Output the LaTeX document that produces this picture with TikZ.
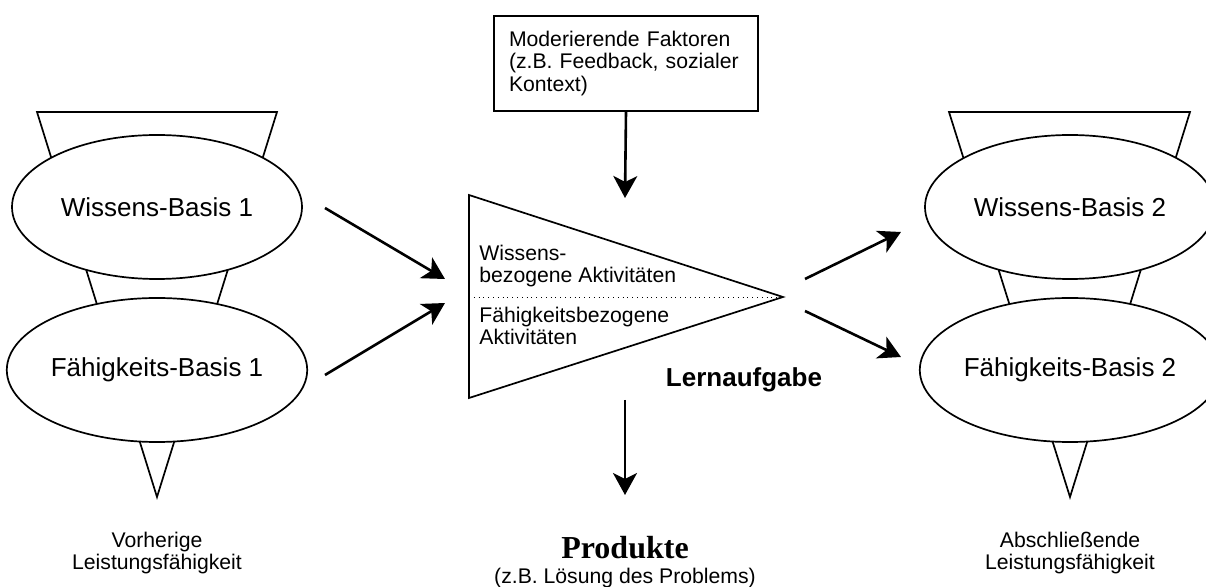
\documentclass[tikz,border=0pt]{standalone}
\usepackage{fontspec}
\setmainfont{Liberation Sans}
\newfontfamily\prodfont{Liberation Serif}
\usetikzlibrary{shapes.geometric,arrows.meta}

\begin{document}
\begin{tikzpicture}[x=0.5pt, y=-0.5pt, line join=miter,
  basis/.style={ellipse,draw,fill=white,line width=0.85pt,minimum width=145pt,minimum height=72pt,inner sep=0pt,font=\fontsize{13}{15}\selectfont},
  funnel/.style={draw,line width=0.85pt},
  pfeil/.style={-{Stealth[length=11pt,width=12pt,inset=3pt]},line width=1.3pt},
  klein/.style={font=\fontsize{10.6}{11.3}\selectfont,inner sep=0pt,align=center}]
\useasboundingbox (0,0) rectangle (1206,587);
% Trichter hinter den Basen
\draw[funnel] (37,112) -- (277,112) -- (157,497) -- cycle;
\draw[funnel] (949,112) -- (1190,112) -- (1070,497) -- cycle;
% Lernaufgabe
\coordinate (tl) at (469,195);
\coordinate (bl) at (469,398);
\coordinate (tip) at (783,297);
\draw[funnel] (tl) -- (tip) -- (bl) -- cycle;
\draw[dotted,line width=0.4pt] (469,297) -- (tip);
\begin{scope}[every node/.style={basis}]
\node (wb1) at (157,207) {Wissens-Basis 1};
\node (fb1) at (157,370) {Fähigkeits-Basis 1};
\node (wb2) at (1070,207) {Wissens-Basis 2};
\node (fb2) at (1070,370) {Fähigkeits-Basis 2};
\end{scope}
\begin{scope}[every node/.style={klein}]
\node[draw,line width=1pt,anchor=north west,minimum width=132pt,minimum height=47.5pt,text width=117pt,align=left,inner xsep=7.5pt] (mod) at (493,15) {Moderierende Faktoren (z.B. Feedback, sozialer Kontext)};
\node[anchor=west,align=left] (wiss) at (479,266) {Wissens-\\bezogene Aktivitäten};
\node[anchor=west,align=left] (faeh) at (479,326) {Fähigkeitsbezogene\\Aktivitäten};
\node (vor) at (157,553) {Vorherige\\Leistungsfähigkeit};
\node (absch) at (1070,553) {Abschließende\\Leistungsfähigkeit};
\node (prodsub) at (625,578) {(z.B. Lösung des Problems)};
\end{scope}
\node[font=\fontsize{13}{15}\selectfont\bfseries,inner sep=0pt] (aufg) at (744,380) {Lernaufgabe};
\node[font=\prodfont\fontsize{16}{18}\selectfont\bfseries,inner sep=0pt] (prod) at (625,548) {Produkte};
% Pfeile
\coordinate (wb1out) at (325,208);
\coordinate (fb1out) at (325,375);
\coordinate (in1) at (445,279);
\coordinate (in2) at (445,303);
\coordinate (out1) at (805,279);
\coordinate (out2) at (805,311);
\coordinate (wb2in) at (901,232);
\coordinate (fb2in) at (901,357);
\coordinate (modin) at (625,198);
\coordinate (taskout) at (625,400);
\coordinate (prodin) at (625,495);
\begin{scope}[every path/.style={draw,pfeil}]
\draw (wb1out) -- (in1);
\draw (fb1out) -- (in2);
\draw (out1) -- (wb2in);
\draw (out2) -- (fb2in);
\draw (mod.south) -- (modin);
\draw (taskout) -- (prodin);
\end{scope}
\end{tikzpicture}
\end{document}
